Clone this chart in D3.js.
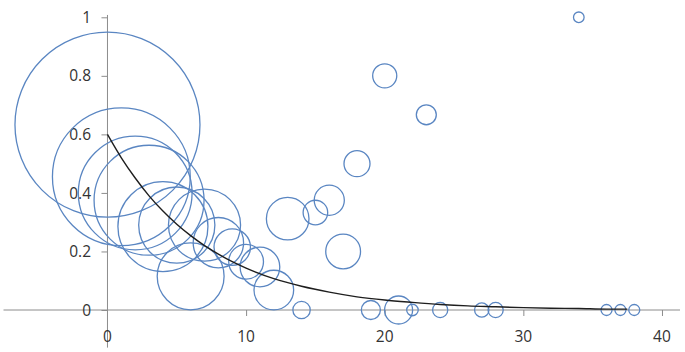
<!DOCTYPE html>
<html>
<head>
<meta charset="utf-8">
<script src="https://cdn.jsdelivr.net/npm/d3@7"></script>
<style>
  html, body { margin: 0; padding: 0; background: #fff; }
  svg { display: block; }
  text { font-family: "Open Sans", "Liberation Sans", sans-serif; }
</style>
</head>
<body>
<svg id="chart" width="685" height="352"></svg>
<script>
// Bubble series
const bubbleX = [0, 1, 2, 3, 4, 5, 6, 7, 8, 9, 10, 11, 12, 13, 14, 15, 16, 17, 18, 19, 20, 21, 22, 23, 24, 27, 28, 34, 36, 37, 38];
const bubbleY = [0.633, 0.455, 0.40, 0.375, 0.285, 0.29, 0.115, 0.29, 0.23, 0.215, 0.165, 0.147, 0.068, 0.312, 0, 0.333, 0.375, 0.2, 0.5, 0, 0.8, 0, 0, 0.667, 0, 0, 0, 1, 0, 0, 0];
const bubbleSize = [283, 157, 107, 100, 67, 48, 37, 43, 21, 11, 10, 13, 13, 15, 2.5, 5, 7.5, 10, 5.6, 3, 4.8, 6.5, 1.1, 3.3, 1.9, 1.7, 1.9, 0.93, 1, 1, 1];

// Trend curve
const curveX = [0, 1, 2, 3, 4, 5, 6, 7, 8, 9, 10, 12, 14, 16, 18, 20, 22, 24, 26, 28, 30, 32, 34, 36, 37.5];
const curveY = [0.600, 0.520, 0.451, 0.390, 0.338, 0.293, 0.254, 0.220, 0.191, 0.165, 0.143, 0.107, 0.081, 0.061, 0.045, 0.034, 0.026, 0.019, 0.014, 0.011, 0.008, 0.006, 0.005, 0.003, 0.003];

// Tick labels
const xTicks = [0, 10, 20, 30, 40];
const yTicks = [0, 0.2, 0.4, 0.6, 0.8, 1];

const svg = d3.select("#chart");

const x = d3.scaleLinear().domain([-7.5, 41.3]).range([3.5, 680]);
const y = d3.scaleLinear().domain([0, 1]).range([310, 17.3]);
const r = d3.scaleSqrt().domain([0, d3.max(bubbleSize)]).range([0, 92.5]);

const axisColor = "#8c8c8c";
const labelColor = "#333333";

// Horizontal axis (at y=0)
const xAxis = d3.axisBottom(x).tickValues(xTicks.filter(d => d !== 0)).tickSize(6).tickFormat("");
const gx = svg.append("g").attr("transform", `translate(0,${y(0)})`).call(xAxis);
gx.select(".domain").remove();
gx.selectAll(".tick line").attr("stroke", axisColor);
svg.append("line")
  .attr("x1", x(-7.5)).attr("x2", x(41.3))
  .attr("y1", y(0)).attr("y2", y(0))
  .attr("stroke", axisColor).attr("stroke-width", 1);

// Vertical axis (at x=0)
const yAxis = d3.axisLeft(y).tickValues(yTicks).tickSize(6).tickFormat("");
const gy = svg.append("g").attr("transform", `translate(${x(0)},0)`).call(yAxis);
gy.select(".domain").remove();
gy.selectAll(".tick line").attr("stroke", axisColor);
svg.append("line")
  .attr("x1", x(0)).attr("x2", x(0))
  .attr("y1", y(1.008)).attr("y2", y(-0.1285))
  .attr("stroke", axisColor).attr("stroke-width", 1);

// Y tick labels
svg.append("g").selectAll("text").data(yTicks).join("text")
  .attr("x", 91)
  .attr("y", d => y(d))
  .attr("dy", "0.36em")
  .attr("text-anchor", "end")
  .attr("font-size", 15.5)
  .attr("fill", labelColor)
  .text(d => d3.format("~g")(d));

// X tick labels
svg.append("g").selectAll("text").data(xTicks).join("text")
  .attr("x", d => x(d))
  .attr("y", 336)
  .attr("dy", "0.36em")
  .attr("text-anchor", "middle")
  .attr("font-size", 15.5)
  .attr("fill", labelColor)
  .text(d => d);

// Bubbles
const bubbles = bubbleX.map((d, i) => ({ x: d, y: bubbleY[i], s: bubbleSize[i] }));
svg.append("g").selectAll("circle").data(bubbles).join("circle")
  .attr("cx", d => x(d.x))
  .attr("cy", d => y(d.y))
  .attr("r", d => r(d.s))
  .attr("fill", "none")
  .attr("stroke", "#5a86c2")
  .attr("stroke-width", 1.3);

// Curve
const line = d3.line().x(d => x(d[0])).y(d => y(d[1])).curve(d3.curveMonotoneX);
svg.append("path")
  .datum(curveX.map((d, i) => [d, curveY[i]]))
  .attr("d", line)
  .attr("fill", "none")
  .attr("stroke", "#1e1e1e")
  .attr("stroke-width", 1.4);
</script>
</body>
</html>
